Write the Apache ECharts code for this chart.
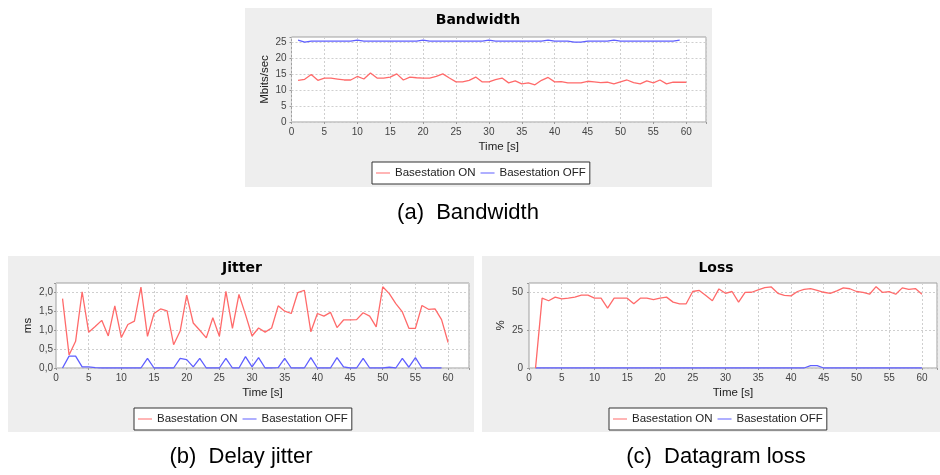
<!DOCTYPE html>
<html><head><meta charset="utf-8">
<script src="https://cdn.jsdelivr.net/npm/echarts@6/dist/echarts.min.js"></script>
<style>html,body{margin:0;padding:0;background:#fff}#c{width:940px;height:475px}</style>
</head><body><div id="c"></div>
<script>
// ---- data ----
const seriesNames = ['Basestation ON', 'Basestation OFF'];
const timeSec = [1,2,3,4,5,6,7,8,9,10,11,12,13,14,15,16,17,18,19,20,
  21,22,23,24,25,26,27,28,29,30,31,32,33,34,35,36,37,38,39,40,
  41,42,43,44,45,46,47,48,49,50,51,52,53,54,55,56,57,58,59,60];
const xTicks = [0,5,10,15,20,25,30,35,40,45,50,55,60];

const bandwidthOn = [13.0,13.3,14.8,13.0,13.7,13.7,13.4,13.1,13.1,14.2,
  13.4,15.3,13.7,13.7,14.0,15.0,13.1,14.0,13.8,13.7,
  13.7,14.2,15.0,13.7,12.5,12.5,13.0,14.0,12.5,12.5,
  13.2,13.7,12.2,12.8,11.9,12.2,11.6,13.0,13.9,12.5,
  12.6,12.2,12.2,12.2,12.7,12.5,12.3,12.4,11.9,12.5,
  13.1,12.3,11.9,12.8,12.2,13.1,11.9,12.4,12.4,12.4];
const bandwidthOff = [25.5,24.9,25.2,25.2,25.2,25.2,25.2,25.2,25.2,25.5,
  25.2,25.2,25.2,25.2,25.2,25.2,25.2,25.2,25.2,25.5,
  25.2,25.2,25.2,25.2,25.2,25.2,25.2,25.2,25.2,25.5,
  25.2,25.2,25.2,25.2,25.2,25.2,25.2,25.2,25.5,25.2,
  25.2,25.2,24.9,24.9,25.2,25.2,25.2,25.2,25.5,25.2,
  25.2,25.2,25.2,25.2,25.2,25.2,25.2,25.2,25.5];

const jitterOn = [1.82,0.34,0.70,2.00,0.94,1.09,1.25,0.84,1.63,0.80,
  1.14,1.23,2.12,0.83,1.43,1.55,1.50,0.61,0.97,1.91,
  1.18,0.99,0.79,1.32,0.83,2.01,1.04,1.93,1.40,0.84,
  1.05,0.94,1.05,1.63,1.49,1.43,1.98,2.04,0.95,1.43,
  1.36,1.46,1.06,1.26,1.26,1.27,1.45,1.36,1.08,2.13,
  1.95,1.69,1.47,1.04,1.04,1.64,1.54,1.55,1.27,0.67];
const jitterOff = [0,0.31,0.31,0.03,0.03,0.01,0,0,0,0,
  0,0,0,0.25,0,0,0,0,0.25,0.22,
  0.03,0.25,0,0,0,0.25,0,0,0.30,0.03,
  0.27,0,0,0.01,0.25,0,0,0,0.27,0,
  0,0,0.27,0.03,0,0,0.25,0,0,0,
  0.02,0,0.25,0.02,0.27,0,0,0,0];

const lossOn = [0,46,44.3,46.7,45.5,46,46.7,48,48,46,
  46,39.5,46,46,46,42.3,46,46,45,46,
  46.7,43.4,42.3,42.3,50.4,51.1,47.8,44.3,52.1,49.2,
  50.4,43.4,49.8,49.9,51.5,52.9,53.4,49.2,47.9,47.5,
  50.4,51.8,52.3,51.1,49.9,49.2,50.8,52.8,52.2,50.4,
  49.8,48.6,53.6,49.8,50.3,48.6,52.8,51.8,52.3,48.6];
const lossOff = [0,0,0,0,0,0,0,0,0,0,
  0,0,0,0,0,0,0,0,0,0,
  0,0,0,0,0,0,0,0,0,0,
  0,0,0,0,0,0,0,0,0,0,
  0,0,1.5,1.5,0,0,0,0,0,0,
  0,0,0,0,0,0,0,0,0,0];

// ---- chart ----
const FONT = 'Liberation Sans';
const RED = '#ff6a6a', BLUE = '#5f5fff';
function pairs(vals){ return vals.map((v,i)=>[timeSec[i], v]); }
function isTick(v, step){ const r = v/step; return Math.abs(r-Math.round(r)) < 1e-6; }

function xAxis(gi, max){
  return {type:'value', gridIndex:gi, min:0, max:max, interval:5,
    axisLine:{show:false},
    axisTick:{show:true, length:2, lineStyle:{color:'#999'}},
    axisLabel:{fontSize:10, color:'#444', margin:5, fontFamily:FONT,
      formatter:v => (isTick(v,5) && xTicks.indexOf(Math.round(v))>=0) ? String(Math.round(v)) : ''},
    splitLine:{show:true, lineStyle:{color:'#cfcfcf', type:[2,2], width:1}},
    name:'Time [s]', nameLocation:'middle', nameGap:19,
    nameTextStyle:{fontSize:11.5, color:'#222', fontFamily:FONT}};
}
function yAxis(gi, max, step, name, gap, margin, fmt){
  return {type:'value', gridIndex:gi, min:0, max:max, interval:step,
    axisLine:{show:false},
    axisTick:{show:true, length:2, lineStyle:{color:'#999'}},
    axisLabel:{fontSize:10, color:'#444', margin:margin, fontFamily:FONT,
      formatter:v => isTick(v,step) ? fmt(v) : ''},
    splitLine:{show:true, lineStyle:{color:'#cfcfcf', type:[2,2], width:1}},
    name:name, nameLocation:'middle', nameGap:gap, nameRotate:90,
    nameTextStyle:{fontSize:11.5, color:'#222', fontFamily:FONT}};
}
function grid(l,t,w,h){
  return {left:l, top:t, width:w, height:h, show:true, backgroundColor:'#fff',
    borderColor:'#a0a0a0', borderWidth:1, containLabel:false};
}
function legend(l,t){
  return {left:l, top:t, data:seriesNames, icon:'rect', itemWidth:14, itemHeight:1,
    itemGap:5, padding:[5,4,5,4], borderColor:'#333', borderWidth:1, borderRadius:0,
    backgroundColor:'#fff', selectedMode:false,
    textStyle:{fontSize:11.5, color:'#222', fontFamily:FONT}};
}
function line(name, gi, vals, color, z){
  return {type:'line', name:name, xAxisIndex:gi, yAxisIndex:gi, data:pairs(vals),
    symbol:'none', showSymbol:false, color:color, z:z,
    lineStyle:{width:1.3, color:color}, animation:false};
}
function txt(x, y, text, font){
  return {type:'text', x:x, y:y, z:10, silent:true,
    style:{text:text, font:font, fill:'#000', align:'center', verticalAlign:'middle',
      textAlign:'center', textVerticalAlign:'middle'}};
}

const chart = echarts.init(document.getElementById('c'), null, {renderer:'canvas'});
chart.setOption({
  backgroundColor:'#fff',
  animation:false,
  textStyle:{fontFamily:FONT},
  graphic:{elements:[
    {type:'rect', z:-10, silent:true, shape:{x:245, y:8, width:467, height:179}, style:{fill:'#eeeeee'}},
    {type:'rect', z:-10, silent:true, shape:{x:8, y:256, width:466, height:176}, style:{fill:'#eeeeee'}},
    {type:'rect', z:-10, silent:true, shape:{x:482, y:256, width:458, height:176}, style:{fill:'#eeeeee'}},
    txt(478, 20, 'Bandwidth', 'bold 14px "DejaVu Sans"'),
    txt(242, 268, 'Jitter', 'bold 14px "DejaVu Sans"'),
    txt(716, 268, 'Loss', 'bold 14px "DejaVu Sans"'),
    txt(468, 213, '(a)  Bandwidth', '22px "Liberation Sans"'),
    txt(241, 457, '(b)  Delay jitter', '22px "Liberation Sans"'),
    txt(716, 457, '(c)  Datagram loss', '22px "Liberation Sans"')
  ]},
  grid:[grid(291.5,37,414.5,85), grid(56,283,413,85), grid(529,283,409,85)],
  xAxis:[xAxis(0,63), xAxis(1,63.2), xAxis(2,62.3)],
  yAxis:[
    yAxis(0,26.5,5,'Mbits/sec',21,5,v=>String(Math.round(v))),
    yAxis(1,2.23,0.5,'ms',22,3,v=>v.toFixed(1).replace('.',',')),
    yAxis(2,56,25,'%',22,6,v=>String(Math.round(v)))
  ],
  legend:[legend(372,162), legend(134,408), legend(609,408)],
  series:[
    line(seriesNames[1],0,bandwidthOff,BLUE,2), line(seriesNames[0],0,bandwidthOn,RED,3),
    line(seriesNames[1],1,jitterOff,BLUE,2), line(seriesNames[0],1,jitterOn,RED,3),
    line(seriesNames[1],2,lossOff,BLUE,2), line(seriesNames[0],2,lossOn,RED,3)
  ]
});
</script></body></html>
